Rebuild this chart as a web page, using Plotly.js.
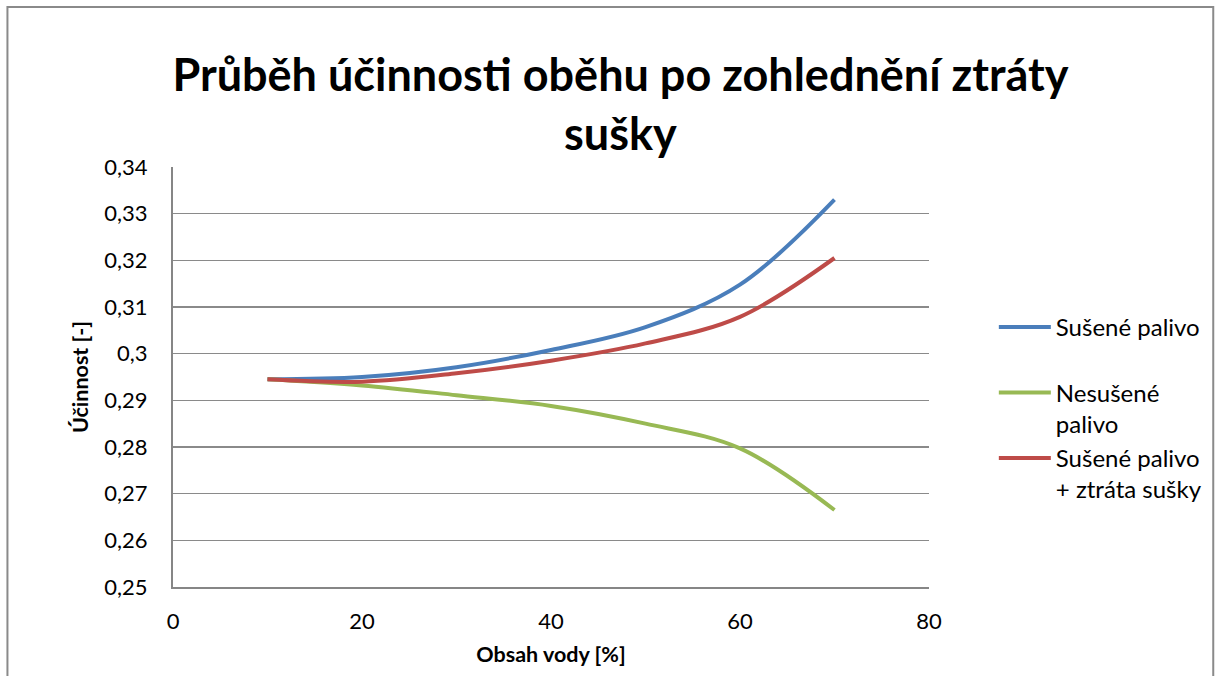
<!DOCTYPE html>
<html>
<head>
<meta charset="utf-8">
<script src="https://cdn.plot.ly/plotly-3.0.1.min.js"></script>
<style>
  html, body { margin: 0; padding: 0; background: #fff; }
  #chart { width: 1219px; height: 676px; }
</style>
</head>
<body>
<div id="chart"></div>
<script>
// Data
const obsahVody = [10, 20, 30, 40, 50, 60, 70];
const suseneP = [0.2945, 0.2950, 0.2971, 0.3008, 0.3057, 0.3148, 0.3330];
const nesuseneP = [0.2945, 0.2932, 0.2911, 0.2888, 0.2850, 0.2797, 0.2665];
const suseneZtrata = [0.2945, 0.2940, 0.2958, 0.2985, 0.3022, 0.3079, 0.3205];

const seriesNames = ['Sušené palivo<br> ', 'Nesušené<br>palivo', 'Sušené palivo<br>+ ztráta sušky'];
const yTickVals = [0.25, 0.26, 0.27, 0.28, 0.29, 0.30, 0.31, 0.32, 0.33, 0.34];
const yTickText = ['0,25', '0,26', '0,27', '0,28', '0,29', '0,3', '0,31', '0,32', '0,33', '0,34'];
const xTickVals = [0, 20, 40, 60, 80];
const xTickText = ['0', '20', '40', '60', '80'];

const FONT = 'Lato, "Open Sans", sans-serif';

const mk = (y, name, color, grp) => ({
  x: obsahVody, y: y, name: name, type: 'scatter', mode: 'lines',
  legendgroup: grp,
  line: { color: color, width: 4, shape: 'spline', smoothing: 1 },
  hoverinfo: 'x+y'
});

const data = [
  mk(suseneP, seriesNames[0], '#4a7ebb', 'a'),
  mk(nesuseneP, seriesNames[1], '#98b954', 'b'),
  mk(suseneZtrata, seriesNames[2], '#be4b48', 'c')
];

// plot area in pixels: x 173..931, y 167..587
const L = 173, R = 931, T = 167, B = 587;
const px = v => (v - L) / (R - L);
const py = v => (B - v) / (B - T);

const layout = {
  width: 1219, height: 676,
  margin: { l: L, r: 1219 - R, t: T, b: 676 - B },
  paper_bgcolor: '#fff', plot_bgcolor: '#fff',
  font: { family: FONT, color: '#000', size: 22 },
  title: {
    text: 'Průběh účinnosti oběhu po zohlednění ztráty<br>sušky',
    font: { family: FONT, size: 45, weight: 700, color: '#000' },
    x: 0.509, xanchor: 'center', xref: 'container',
    y: 1 - 91 / 676, yanchor: 'middle', yref: 'container'
  },
  xaxis: {
    range: [0, 80], tickvals: xTickVals, ticktext: xTickText,
    showgrid: false, zeroline: false,
    showline: true, linecolor: '#868686', linewidth: 2,
    ticks: '', ticklabelstandoff: 14,
    tickfont: { family: FONT, size: 22, color: '#000' },
    title: { text: 'Obsah vody [%]', font: { family: FONT, size: 21.5, weight: 700, color: '#000' }, standoff: 14 },
    fixedrange: true
  },
  yaxis: {
    range: [0.25, 0.34], tickvals: yTickVals, ticktext: yTickText,
    showgrid: true, gridcolor: '#8a8a8a', gridwidth: 1.5,
    zeroline: false,
    showline: true, linecolor: '#868686', linewidth: 2,
    ticks: '', ticklabelstandoff: 19,
    tickfont: { family: FONT, size: 22, color: '#000' },
    title: { text: 'Účinnost [-]', font: { family: FONT, size: 21.5, weight: 700, color: '#000' }, standoff: 10 },
    fixedrange: true
  },
  legend: {
    x: px(996), y: py(305), xanchor: 'left', yanchor: 'top',
    xref: 'paper', yref: 'paper',
    font: { family: FONT, size: 24, color: '#000' },
    bgcolor: 'rgba(0,0,0,0)', borderwidth: 0,
    valign: 'top', tracegroupgap: 15, traceorder: 'normal',
    itemwidth: 52
  },
  showlegend: true,
  shapes: [
    { type: 'rect', xref: 'paper', yref: 'paper',
      x0: px(7), x1: px(1216), y0: py(7), y1: py(720),
      line: { color: '#8a8a8a', width: 2 }, fillcolor: 'rgba(0,0,0,0)', layer: 'below' }
  ]
};

Plotly.newPlot('chart', data, layout, { displayModeBar: false, staticPlot: true });
</script>
</body>
</html>
